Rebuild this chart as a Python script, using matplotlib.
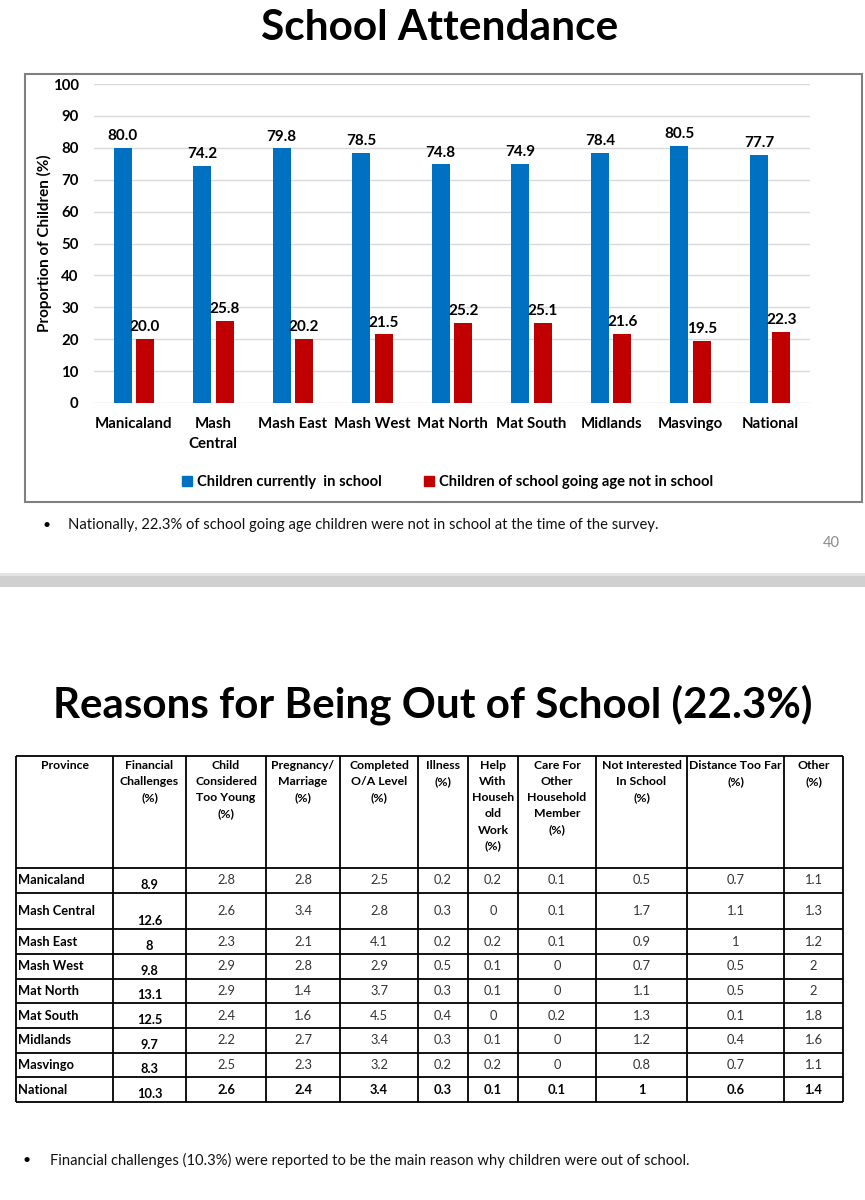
import matplotlib
matplotlib.use("Agg")
import matplotlib.pyplot as plt
import numpy as np
from matplotlib.patches import Rectangle, Patch

plt.rcParams['font.family'] = ['Lato', 'DejaVu Sans']

W, H = 865, 1200

# ---- School attendance chart data
tick_labels = ["Manicaland", "Mash\nCentral", "Mash East", "Mash West", "Mat North",
               "Mat South", "Midlands", "Masvingo", "National"]
in_school = [80.0, 74.2, 79.8, 78.5, 74.8, 74.9, 78.4, 80.5, 77.7]
not_in_school = [20.0, 25.8, 20.2, 21.5, 25.2, 25.1, 21.6, 19.5, 22.3]
series_names = ["Children currently  in school", "Children of school going age not in school"]

# ---- Reasons table data
provinces = ["Manicaland", "Mash Central", "Mash East", "Mash West", "Mat North",
             "Mat South", "Midlands", "Masvingo", "National"]
headers = ["Province", "Financial\nChallenges\n(%)", "Child\nConsidered\nToo Young\n(%)",
           "Pregnancy/\nMarriage\n(%)", "Completed\nO/A Level\n(%)", "Illness\n(%)",
           "Help\nWith\nHouseh\nold\nWork\n(%)", "Care For\nOther\nHousehold\nMember\n(%)",
           "Not Interested\nIn School\n(%)", "Distance Too Far\n(%)", "Other\n(%)"]
financial = [8.9, 12.6, 8, 9.8, 13.1, 12.5, 9.7, 8.3, 10.3]
too_young = [2.8, 2.6, 2.3, 2.9, 2.9, 2.4, 2.2, 2.5, 2.6]
pregnancy = [2.8, 3.4, 2.1, 2.8, 1.4, 1.6, 2.7, 2.3, 2.4]
completed = [2.5, 2.8, 4.1, 2.9, 3.7, 4.5, 3.4, 3.2, 3.4]
illness = [0.2, 0.3, 0.2, 0.5, 0.3, 0.4, 0.3, 0.2, 0.3]
household_work = [0.2, 0, 0.2, 0.1, 0.1, 0, 0.1, 0.2, 0.1]
care_member = [0.1, 0.1, 0.1, 0, 0, 0.2, 0, 0, 0.1]
not_interested = [0.5, 1.7, 0.9, 0.7, 1.1, 1.3, 1.2, 0.8, 1]
distance = [0.7, 1.1, 1, 0.5, 0.5, 0.1, 0.4, 0.7, 0.6]
other = [1.1, 1.3, 1.2, 2, 2, 1.8, 1.6, 1.1, 1.4]
reason_cols = [financial, too_young, pregnancy, completed, illness, household_work,
               care_member, not_interested, distance, other]

BLUE = "#0070C0"
RED = "#C00000"

fig = plt.figure(figsize=(W / 100, H / 100), dpi=100)

# page axes in pixel coordinates for the slide decorations and the table
page = fig.add_axes([0, 0, 1, 1])
page.set_xlim(0, W)
page.set_ylim(H, 0)
page.axis('off')


def fax(x0, y0, x1, y1):
    return [x0 / W, 1 - y1 / H, (x1 - x0) / W, (y1 - y0) / H]


# ---------------- slide 1 ----------------
page.text(440, 28, "School Attendance", ha='center', va='center', fontsize=30.5, fontweight='bold')
page.add_patch(Rectangle((25, 74), 837, 428, fill=False, ec='#808080', lw=1.5))

ax = fig.add_axes(fax(94, 84, 810, 403))
ax.patch.set_alpha(0)
x = np.arange(len(tick_labels))
bw = 0.226
b1 = ax.bar(x - 0.141, in_school, bw, color=BLUE, zorder=3)
b2 = ax.bar(x + 0.141, not_in_school, bw, color=RED, zorder=3)
for bars, vals in ((b1, in_school), (b2, not_in_school)):
    for rect, v in zip(bars, vals):
        ax.annotate(f"{v:.1f}", (rect.get_x() + rect.get_width() / 2, v), xytext=(0, 3.5),
                    textcoords='offset points', ha='center', va='bottom',
                    fontsize=11, fontweight='bold')

ax.set_xlim(-0.5, len(tick_labels) - 0.5)
ax.set_ylim(0, 100)
ax.set_yticks(range(0, 101, 10))
ax.set_xticks(x)
ax.set_xticklabels(tick_labels, fontsize=10.8, fontweight='bold', linespacing=1.55)
for lab in ax.get_yticklabels():
    lab.set_fontweight('bold')
    lab.set_fontsize(10.8)
ax.tick_params(axis='y', length=0, pad=11)
ax.tick_params(axis='x', length=0, pad=10)
ax.grid(axis='y', color='#d9d9d9', lw=1, zorder=0)
for s in ax.spines.values():
    s.set_visible(False)
ax.set_ylabel("Proportion of Children (%)", fontsize=11, fontweight='bold')
ax.yaxis.set_label_coords(-0.058, 0.5)

handles = [Patch(color=BLUE), Patch(color=RED)]
ax.legend(handles, series_names, loc='center', bbox_to_anchor=(447.5 / W, 1 - 482 / H),
          bbox_transform=fig.transFigure, ncol=2, frameon=False, handlelength=0.7,
          handleheight=0.7, handletextpad=0.3, columnspacing=2.9,
          prop={'weight': 'bold', 'size': 10.6})

page.text(47, 525, "\u2022", ha='center', va='center', fontsize=10)
page.text(68, 525, "Nationally, 22.3% of school going age children were not in school at the time of the survey.",
          ha='left', va='center', fontsize=10.6, color='#111111')
page.text(840, 543, "40", ha='right', va='center', fontsize=10.5, color='#8c8c8c')

# slide separator
page.add_patch(Rectangle((0, 573), W, 14, color='#d0d0d0', lw=0))
page.add_patch(Rectangle((0, 573), W, 3, color='#e2e2e2', lw=0))

# ---------------- slide 2 ----------------
page.text(433, 705, "Reasons for Being Out of School (22.3%)", ha='center', va='center',
          fontsize=30.3, fontweight='bold')

col_edges = [16, 113, 186, 266, 340, 418, 468, 518, 596, 687, 784, 843]
row_edges = [756, 868, 893, 929, 954, 979, 1003, 1028, 1053, 1077, 1102]

page.hlines(row_edges, col_edges[0], col_edges[-1], color='black', lw=1.3)
page.vlines(col_edges, row_edges[0], row_edges[-1], color='black', lw=1.3)

for j, head in enumerate(headers):
    cx = (col_edges[j] + col_edges[j + 1]) / 2
    page.text(cx, 760, head, ha='center', va='top', fontsize=8.8, fontweight='bold',
              linespacing=1.57)

for i, prov in enumerate(provinces):
    top, bot = row_edges[i + 1], row_edges[i + 2]
    cy = (top + bot) / 2
    national = prov == "National"
    page.text(col_edges[0] + 2, cy, prov, ha='left', va='center', fontsize=9.3,
              fontweight='bold')
    for j, col in enumerate(reason_cols):
        cx = (col_edges[j + 1] + col_edges[j + 2]) / 2
        txt = f"{col[i]:g}"
        if j == 0:
            page.text(cx, bot - 2, txt, ha='center', va='bottom', fontsize=9.3,
                      fontweight='bold')
        else:
            page.text(cx, cy, txt, ha='center', va='center', fontsize=9.3,
                      fontweight='bold' if national else 'normal',
                      color='black' if national else '#333333')

page.text(27, 1160, "\u2022", ha='center', va='center', fontsize=10)
page.text(50, 1160, "Financial challenges (10.3%) were reported to be the main reason why children were out of school.",
          ha='left', va='center', fontsize=10.6, color='#111111')

fig.savefig("out.png", dpi=100, facecolor='white')
